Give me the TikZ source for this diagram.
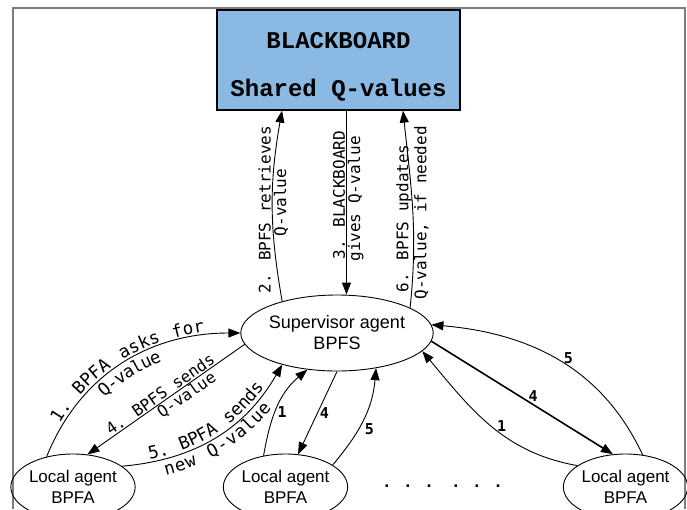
\documentclass[tikz,border=0pt]{standalone}
\usepackage{fontspec}
\setmainfont{Liberation Sans}
\newfontfamily\lblfont{DejaVu Sans Mono}
\newfontfamily\arcfont[LetterSpace=12]{DejaVu Sans Mono}
\newfontfamily\bbfont{Liberation Mono}
\usetikzlibrary{shapes.geometric,arrows.meta,decorations.text}
\definecolor{bbblue}{RGB}{138,185,228}
\definecolor{framegray}{RGB}{125,125,125}

\begin{document}
\begin{tikzpicture}[x=1pt,y=-1pt,line width=0.9pt,
  >={Triangle[length=12pt,width=9pt]},
  agent/.style={ellipse,draw,align=center,inner sep=0pt,font=\fontsize{17}{21}\selectfont,
    minimum width=114,minimum height=66},
  lbl/.style={font=\fontsize{16}{16}\lblfont,inner sep=1pt},
  num/.style={font=\fontsize{15}{15}\lblfont\bfseries,inner sep=2pt},
  pathtext/.style 2 args={postaction={decorate,decoration={text along path,text align=center,
    raise=#1,text={|\fontsize{17.5}{16}\arcfont|#2}}}}]
\useasboundingbox (0,0) rectangle (687,509);
\draw[framegray,line width=2pt] (13,509) -- (13,7.5) -- (685,7.5) -- (685,509);

\node[draw,line width=1.3pt,fill=bbblue,minimum width=243,minimum height=100] (bb) at (338.5,60) {};
\node[font=\fontsize{24}{48}\bbfont\bfseries,align=center] (bbtext) at (338.5,67) {BLACKBOARD\\Shared Q-values};

\node[agent,minimum width=160,minimum height=76,font=\fontsize{18}{21}\selectfont] (sup) at (337,333) {Supervisor agent\\BPFS};
\node[agent] (la) at (73,487) {Local agent\\BPFA};
\node[agent] (ma) at (285.5,487) {Local agent\\BPFA};
\node[agent] (ra) at (625.5,487) {Local agent\\BPFA};
\node[num,anchor=base] (dots1) at (408,487) {. . .};
\node[num,anchor=base] (dots2) at (477,487) {. . .};

\coordinate (bbmid) at ([xshift=8pt]bb.south);
\draw[->] (sup.150) to[out=100,in=-100]
  node[lbl,rotate=90,anchor=south,pos=.48] (l2a) {2. BPFS retrieves}
  node[lbl,rotate=90,anchor=north,pos=.52] (l2b) {Q-value} ([xshift=-56.5pt]bb.south);
\draw[->] (bbmid) -- (bbmid |- sup.north)
  node[lbl,rotate=90,anchor=south,pos=.46] (l3a) {3. BLACKBOARD}
  node[lbl,rotate=90,anchor=north,pos=.48] (l3b) {gives Q-value};
\draw[->] (sup.19) to[out=84,in=-84]
  node[lbl,rotate=90,anchor=south,pos=.45] (l6a) {6. BPFS updates}
  node[lbl,rotate=90,anchor=north,pos=.48] (l6b) {Q-value, if needed} ([xshift=64.5pt]bb.south);

\draw[->,pathtext={3pt}{1. BPFA asks for},pathtext={-16pt}{Q-value}] (la.131) to[out=68,in=180] (sup.west);
\draw[->] (sup.187) -- (la.66)
  node[lbl,sloped,above,pos=.51] (l4a) {4. BPFS sends}
  node[lbl,sloped,below,pos=.4] (l4b) {Q-value};
\draw[->,pathtext={3pt}{5. BPFA sends},pathtext={-16pt}{new Q-value}] (la.23) to[out=5,in=240] (sup.210);

\draw[->] (ma.125) to[out=80,in=220] node[num,pos=.45,right] (m1) {1} (sup.231);
\draw[->] (sup.south) -- (ma.69) node[num,pos=.5,right] (m4) {4};
\draw[->] (ma.25) to[out=50,in=265] node[num,pos=.4,right=4pt] (m5) {5} (sup.-42);

\draw[->] (ra.156) to[out=170,in=-50] node[num,pos=.42,above] (r1) {1} (sup.-12);
\draw[->,line width=1.6pt] (sup.-5) -- (ra.111) node[num,pos=.56,above] (r4) {4};
\draw[->] (ra.62) to[out=115,in=-5] node[num,pos=.45,above] (r5) {5} (sup.5);
\end{tikzpicture}
\end{document}
